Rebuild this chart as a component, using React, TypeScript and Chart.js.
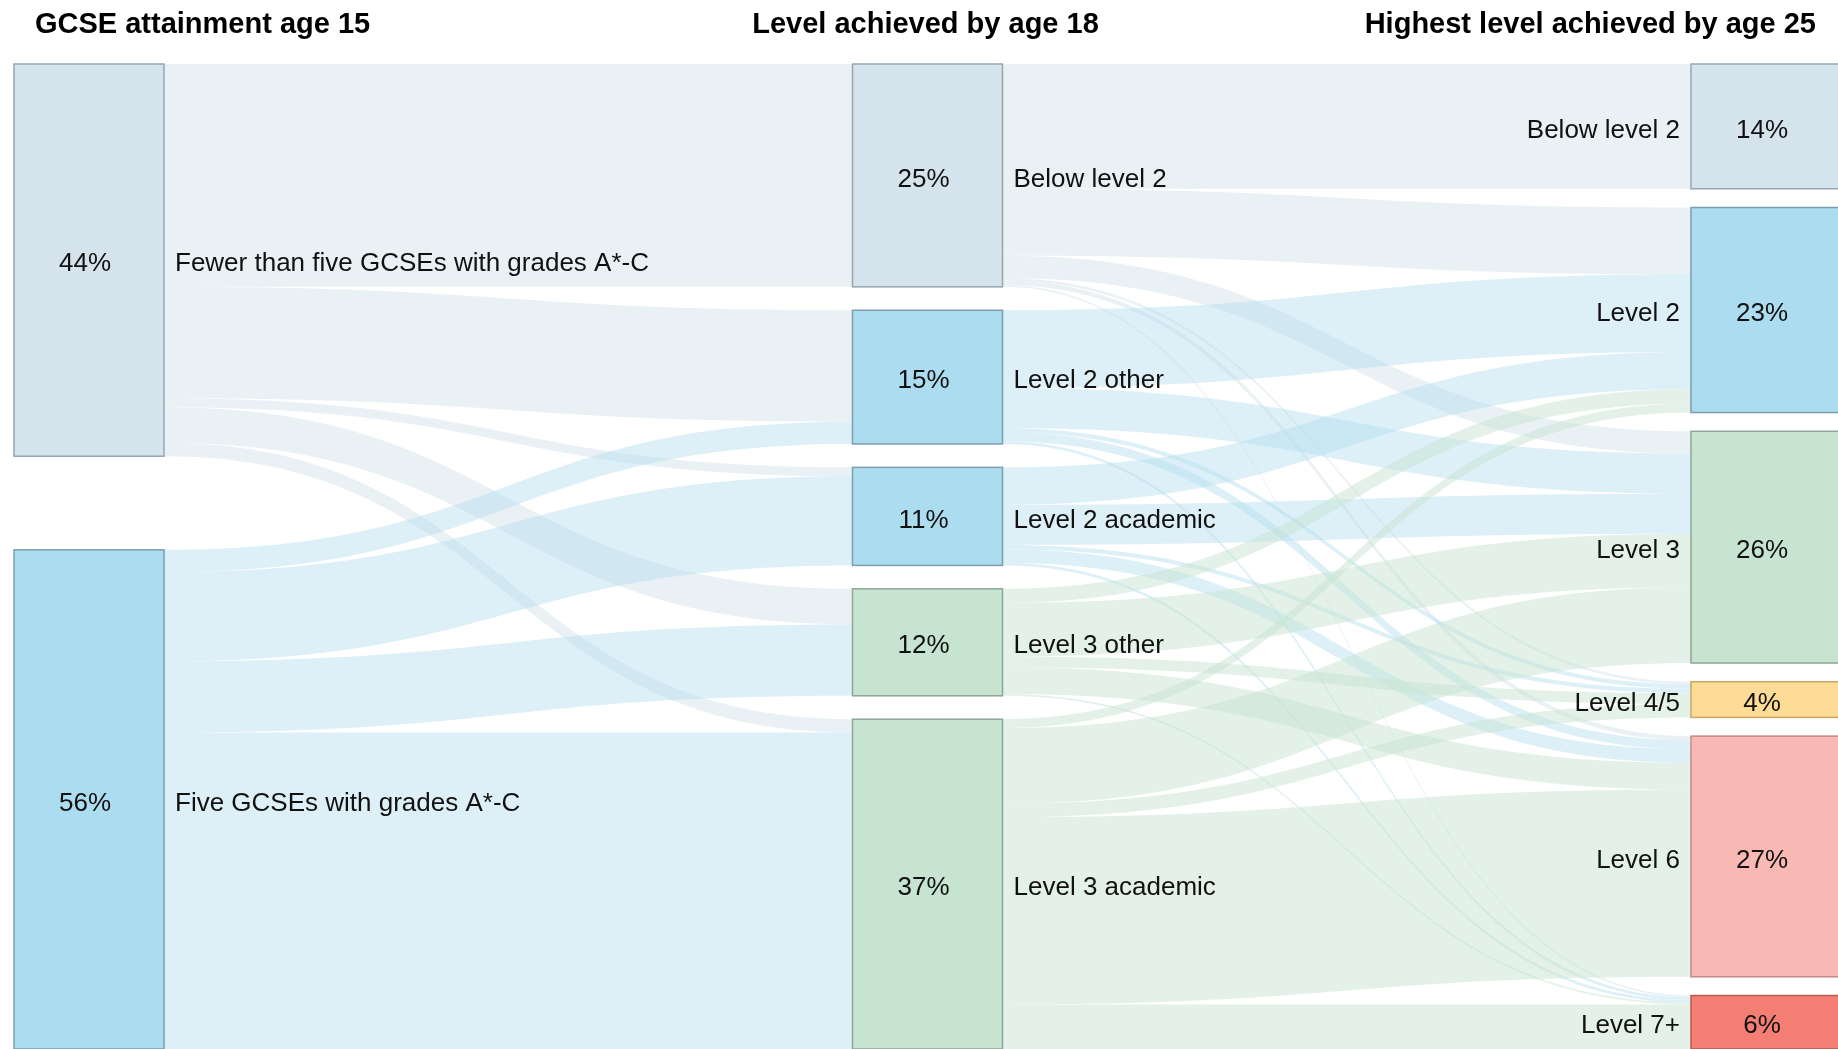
import { useEffect, useRef } from 'react';
import { Chart, registerables } from 'chart.js';

Chart.register(...registerables);

// columns of nodes
const columnTitles = ['GCSE attainment age 15', 'Level achieved by age 18', 'Highest level achieved by age 25'];
const age15Labels = ['Fewer than five GCSEs with grades A*-C', 'Five GCSEs with grades A*-C'];
const age15Values = [44, 56];
const age18Labels = ['Below level 2', 'Level 2 other', 'Level 2 academic', 'Level 3 other', 'Level 3 academic'];
const age18Values = [25, 15, 11, 12, 37];
const age25Labels = ['Below level 2', 'Level 2', 'Level 3', 'Level 4/5', 'Level 6', 'Level 7+'];
const age25Values = [14, 23, 26, 4, 27, 6];

// flows: rows = source node, columns = target node (percent of cohort)
const flows15to18 = [
  [25, 12.5, 1, 4, 1.5],
  [0, 2.5, 10, 8, 35.5],
];
const flows18to25 = [
  [14, 7.5, 2.5, 0.3, 0.5, 0.2],
  [0, 8.7, 4.5, 0.5, 1, 0.3],
  [0, 4.2, 4.5, 0.5, 1.5, 0.3],
  [0, 1.6, 6, 1.2, 3, 0.2],
  [0, 1, 8.5, 1.5, 21, 5],
];

const age15Colors = ['grey', 'blue'];
const age18Colors = ['grey', 'blue', 'blue', 'green', 'green'];
const age25Colors = ['grey', 'blue', 'green', 'yellow', 'pink', 'red'];

const SPAN = 110.5; // total vertical extent of each column, in percentage units
const NODE_W = 150;
const FONT = 'Arial, "Liberation Sans", sans-serif';

const palette: Record<string, { fill: string; stroke: string; link: string }> = {
  grey: { fill: '#d4e3ec', stroke: '#97a6b1', link: 'rgba(214,228,235,0.5)' },
  blue: { fill: '#acdcef', stroke: '#7d9db0', link: 'rgba(180,222,240,0.45)' },
  green: { fill: '#c6e4d0', stroke: '#8ea698', link: 'rgba(200,228,210,0.5)' },
  yellow: { fill: '#fddc96', stroke: '#c8a765', link: '' },
  pink: { fill: '#f8b9b4', stroke: '#c08a86', link: '' },
  red: { fill: '#f47e74', stroke: '#b85a52', link: '' },
};

type Node = { top: number; bottom: number; color: string; label: string; value: number };

function layout(values: number[], labels: string[], colors: string[]): Node[] {
  const gap = values.length > 1 ? (SPAN - values.reduce((a, b) => a + b, 0)) / (values.length - 1) : 0;
  let y = 0;
  return values.map((v, i) => {
    const n = { top: y, bottom: y + v, color: colors[i], label: labels[i], value: v };
    y += v + gap;
    return n;
  });
}

const sankeyPlugin = {
  id: 'sankey',
  afterDatasetsDraw(chart: Chart) {
    const { ctx, scales } = chart;
    const xs = scales.x;
    const ys = scales.y;
    const cols = [
      layout(age15Values, age15Labels, age15Colors),
      layout(age18Values, age18Labels, age18Colors),
      layout(age25Values, age25Labels, age25Colors),
    ];
    const matrices = [flows15to18, flows18to25];

    ctx.save();
    // links
    matrices.forEach((m, c) => {
      const src = cols[c];
      const dst = cols[c + 1];
      const outOff = src.map((n) => n.top);
      const inOff = dst.map((n) => n.top);
      const x0 = xs.getPixelForValue(c) + NODE_W / 2;
      const x1 = xs.getPixelForValue(c + 1) - NODE_W / 2;
      const mx = (x0 + x1) / 2;
      m.forEach((row, i) => {
        row.forEach((v, j) => {
          if (v <= 0) return;
          const a0 = ys.getPixelForValue(outOff[i]);
          const a1 = ys.getPixelForValue(outOff[i] + v);
          const b0 = ys.getPixelForValue(inOff[j]);
          const b1 = ys.getPixelForValue(inOff[j] + v);
          outOff[i] += v;
          inOff[j] += v;
          ctx.beginPath();
          ctx.moveTo(x0, a0);
          ctx.bezierCurveTo(mx, a0, mx, b0, x1, b0);
          ctx.lineTo(x1, b1);
          ctx.bezierCurveTo(mx, b1, mx, a1, x0, a1);
          ctx.closePath();
          ctx.fillStyle = palette[src[i].color].link;
          ctx.fill();
        });
      });
    });

    // nodes and labels
    cols.forEach((col, c) => {
      const cx = xs.getPixelForValue(c);
      col.forEach((n) => {
        const t = ys.getPixelForValue(n.top);
        const b = ys.getPixelForValue(n.bottom);
        ctx.fillStyle = palette[n.color].fill;
        ctx.strokeStyle = palette[n.color].stroke;
        ctx.lineWidth = 1.5;
        ctx.fillRect(cx - NODE_W / 2, t, NODE_W, b - t);
        ctx.strokeRect(cx - NODE_W / 2, t, NODE_W, b - t);
        ctx.fillStyle = '#111';
        ctx.font = `26px ${FONT}`;
        ctx.textBaseline = 'middle';
        ctx.textAlign = 'center';
        const yy = (t + b) / 2 + 4;
        ctx.fillText(`${n.value}%`, cx - 4, yy);
        if (c < 2) {
          ctx.textAlign = 'left';
          ctx.fillText(n.label, cx + NODE_W / 2 + 11, yy);
        } else {
          ctx.textAlign = 'right';
          ctx.fillText(n.label, cx - NODE_W / 2 - 11, yy);
        }
      });
    });

    // column titles
    ctx.font = `bold 29px ${FONT}`;
    ctx.fillStyle = '#000';
    ctx.textBaseline = 'middle';
    ctx.textAlign = 'left';
    ctx.fillText(columnTitles[0], 35, 25);
    ctx.textAlign = 'center';
    ctx.fillText(columnTitles[1], xs.getPixelForValue(1) - 2, 25);
    ctx.textAlign = 'right';
    ctx.fillText(columnTitles[2], 1816, 25);
    ctx.restore();
  },
};

export default function App() {
  const canvasRef = useRef<HTMLCanvasElement>(null);
  const chartRef = useRef<Chart>();

  useEffect(() => {
    if (!canvasRef.current) return;
    chartRef.current?.destroy();
    chartRef.current = new Chart(canvasRef.current, {
      type: 'scatter',
      data: { datasets: [{ data: [] }] },
      options: {
        responsive: false,
        animation: false,
        layout: { padding: { left: 89, right: 72, top: 64, bottom: 0 } },
        scales: {
          x: { type: 'linear', min: 0, max: 2, display: false },
          y: { type: 'linear', min: 0, max: SPAN, reverse: true, display: false },
        },
        plugins: { legend: { display: false }, tooltip: { enabled: false } },
      },
      plugins: [sankeyPlugin],
    });
    return () => {
      chartRef.current?.destroy();
    };
  }, []);

  return (
    <div style={{ position: 'absolute', left: 0, top: 0, width: 1838, height: 1049, overflow: 'hidden', background: '#fff' }}>
      <canvas ref={canvasRef} width={1838} height={1049}></canvas>
    </div>
  );
}
